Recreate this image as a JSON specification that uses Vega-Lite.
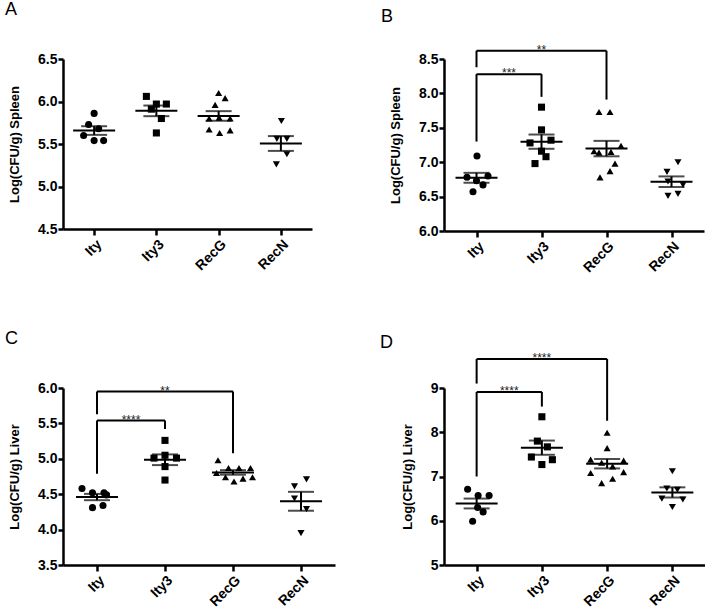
{
  "$schema": "https://vega.github.io/schema/vega-lite/v6.json",
  "padding": {"left": 5, "top": 1, "right": 0, "bottom": 0},
  "background": "white",
  "config": {
    "font": "Liberation Sans",
    "view": {"stroke": null},
    "axis": {"grid": false, "domainColor": "black", "domainWidth": 2.5, "tickColor": "black", "tickWidth": 2.5, "labelColor": "black", "labelFontWeight": "bold", "labelFontSize": 14, "titleFontWeight": "bold", "titleFontSize": 13, "titleColor": "black", "labelOverlap": false},
    "axisY": {"tickSize": 5, "labelPadding": 1, "titlePadding": 16, "labelOverlap": false},
    "axisX": {"tickSize": 6, "labelAngle": -45, "labelPadding": 2, "title": null},
    "title": {"fontSize": 18, "fontWeight": "normal", "anchor": "start", "frame": "group", "baseline": "alphabetic", "color": "black"}
  },
  "datasets": {
    "A": [
      {"group": "Ity", "value": 5.86, "jitter": 0},
      {"group": "Ity", "value": 5.73, "jitter": -1.1},
      {"group": "Ity", "value": 5.68, "jitter": 0.9},
      {"group": "Ity", "value": 5.60, "jitter": -2.1},
      {"group": "Ity", "value": 5.54, "jitter": 0},
      {"group": "Ity", "value": 5.54, "jitter": 1.9},
      {"group": "Ity3", "value": 6.06, "jitter": -2},
      {"group": "Ity3", "value": 5.97, "jitter": 0},
      {"group": "Ity3", "value": 5.97, "jitter": 2},
      {"group": "Ity3", "value": 5.91, "jitter": -1},
      {"group": "Ity3", "value": 5.80, "jitter": 1},
      {"group": "Ity3", "value": 5.63, "jitter": 0},
      {"group": "RecG", "value": 6.10, "jitter": 0},
      {"group": "RecG", "value": 6.04, "jitter": 1.3},
      {"group": "RecG", "value": 5.96, "jitter": -0.7},
      {"group": "RecG", "value": 5.80, "jitter": -1.9},
      {"group": "RecG", "value": 5.81, "jitter": 0.1},
      {"group": "RecG", "value": 5.80, "jitter": 2.3},
      {"group": "RecG", "value": 5.67, "jitter": -1.9},
      {"group": "RecG", "value": 5.63, "jitter": 0.2},
      {"group": "RecG", "value": 5.66, "jitter": 2.3},
      {"group": "RecN", "value": 5.77, "jitter": 0.1},
      {"group": "RecN", "value": 5.56, "jitter": -0.8},
      {"group": "RecN", "value": 5.56, "jitter": 1.2},
      {"group": "RecN", "value": 5.38, "jitter": 1.2},
      {"group": "RecN", "value": 5.26, "jitter": -0.9}
    ],
    "B": [
      {"group": "Ity", "value": 7.09, "jitter": 0.1},
      {"group": "Ity", "value": 6.78, "jitter": -1.9},
      {"group": "Ity", "value": 6.80, "jitter": 2.3},
      {"group": "Ity", "value": 6.73, "jitter": 0},
      {"group": "Ity", "value": 6.67, "jitter": 1.3},
      {"group": "Ity", "value": 6.57, "jitter": -0.7},
      {"group": "Ity3", "value": 7.80, "jitter": 0},
      {"group": "Ity3", "value": 7.47, "jitter": 0},
      {"group": "Ity3", "value": 7.28, "jitter": -2.3},
      {"group": "Ity3", "value": 7.32, "jitter": 1.9},
      {"group": "Ity3", "value": 7.16, "jitter": 0},
      {"group": "Ity3", "value": 7.08, "jitter": 0.9},
      {"group": "Ity3", "value": 6.98, "jitter": -1.3},
      {"group": "RecG", "value": 7.73, "jitter": -1.5},
      {"group": "RecG", "value": 7.73, "jitter": 0.7},
      {"group": "RecG", "value": 7.24, "jitter": 2.9},
      {"group": "RecG", "value": 7.16, "jitter": -2.5},
      {"group": "RecG", "value": 7.14, "jitter": -1.5},
      {"group": "RecG", "value": 7.15, "jitter": 0.9},
      {"group": "RecG", "value": 6.98, "jitter": 1.7},
      {"group": "RecG", "value": 6.87, "jitter": 0.7},
      {"group": "RecG", "value": 6.78, "jitter": -1.3},
      {"group": "RecN", "value": 7.00, "jitter": 1.3},
      {"group": "RecN", "value": 6.86, "jitter": -0.9},
      {"group": "RecN", "value": 6.72, "jitter": -0.7},
      {"group": "RecN", "value": 6.67, "jitter": 2.3},
      {"group": "RecN", "value": 6.51, "jitter": -0.7},
      {"group": "RecN", "value": 6.54, "jitter": 1.3}
    ],
    "C": [
      {"group": "Ity", "value": 4.58, "jitter": -3},
      {"group": "Ity", "value": 4.52, "jitter": -0.9},
      {"group": "Ity", "value": 4.52, "jitter": 1.4},
      {"group": "Ity", "value": 4.49, "jitter": 1.9},
      {"group": "Ity", "value": 4.31, "jitter": -0.9},
      {"group": "Ity", "value": 4.34, "jitter": 1.2},
      {"group": "Ity3", "value": 5.26, "jitter": 0},
      {"group": "Ity3", "value": 5.01, "jitter": -2.2},
      {"group": "Ity3", "value": 5.05, "jitter": 0},
      {"group": "Ity3", "value": 5.01, "jitter": 2.3},
      {"group": "Ity3", "value": 4.89, "jitter": 0},
      {"group": "Ity3", "value": 4.70, "jitter": 0},
      {"group": "RecG", "value": 4.98, "jitter": -3},
      {"group": "RecG", "value": 4.87, "jitter": -0.9},
      {"group": "RecG", "value": 4.87, "jitter": 1.2},
      {"group": "RecG", "value": 4.87, "jitter": 3.5},
      {"group": "RecG", "value": 4.80, "jitter": -3.3},
      {"group": "RecG", "value": 4.74, "jitter": -1.5},
      {"group": "RecG", "value": 4.68, "jitter": 0.2},
      {"group": "RecG", "value": 4.72, "jitter": 2},
      {"group": "RecG", "value": 4.74, "jitter": 3.9},
      {"group": "RecN", "value": 4.71, "jitter": 1.1},
      {"group": "RecN", "value": 4.61, "jitter": -1.3},
      {"group": "RecN", "value": 4.44, "jitter": -1.3},
      {"group": "RecN", "value": 4.29, "jitter": 1.1},
      {"group": "RecN", "value": 3.95, "jitter": 0}
    ],
    "D": [
      {"group": "Ity", "value": 6.71, "jitter": -1.8},
      {"group": "Ity", "value": 6.57, "jitter": 0.3},
      {"group": "Ity", "value": 6.57, "jitter": 2.5},
      {"group": "Ity", "value": 6.30, "jitter": 0.2},
      {"group": "Ity", "value": 6.20, "jitter": 1.3},
      {"group": "Ity", "value": 5.99, "jitter": -0.8},
      {"group": "Ity3", "value": 8.35, "jitter": 0},
      {"group": "Ity3", "value": 7.80, "jitter": -0.9},
      {"group": "Ity3", "value": 7.67, "jitter": 1.1},
      {"group": "Ity3", "value": 7.44, "jitter": -2.1},
      {"group": "Ity3", "value": 7.38, "jitter": 2.1},
      {"group": "Ity3", "value": 7.27, "jitter": 0},
      {"group": "RecG", "value": 7.99, "jitter": 0},
      {"group": "RecG", "value": 7.64, "jitter": 0},
      {"group": "RecG", "value": 7.38, "jitter": -3.3},
      {"group": "RecG", "value": 7.31, "jitter": -1.1},
      {"group": "RecG", "value": 7.23, "jitter": 1.1},
      {"group": "RecG", "value": 7.36, "jitter": 3.3},
      {"group": "RecG", "value": 7.08, "jitter": -3.3},
      {"group": "RecG", "value": 7.10, "jitter": 3.3},
      {"group": "RecG", "value": 6.95, "jitter": 1.1},
      {"group": "RecG", "value": 6.85, "jitter": -1.1},
      {"group": "RecN", "value": 7.12, "jitter": 0},
      {"group": "RecN", "value": 6.73, "jitter": -1.1},
      {"group": "RecN", "value": 6.70, "jitter": 1},
      {"group": "RecN", "value": 6.50, "jitter": -2.1},
      {"group": "RecN", "value": 6.48, "jitter": 2.1},
      {"group": "RecN", "value": 6.31, "jitter": 0}
    ],
    "bB": [
      {"from": "Ity", "to": "RecG", "mid": "Ity3", "top": 8.62, "lb": 8.38, "rb": 7.91, "label": "**"},
      {"from": "Ity", "to": "Ity3", "mid": "m1", "top": 8.28, "lb": 7.30, "rb": 7.95, "label": "***"}
    ],
    "bC": [
      {"from": "Ity", "to": "RecG", "mid": "Ity3", "top": 5.95, "lb": 5.63, "rb": 5.08, "label": "**"},
      {"from": "Ity", "to": "Ity3", "mid": "m1", "top": 5.54, "lb": 4.79, "rb": 5.42, "label": "****"}
    ],
    "bD": [
      {"from": "Ity", "to": "RecG", "mid": "Ity3", "top": 9.655, "lb": 9.10, "rb": 8.26, "label": "****"},
      {"from": "Ity", "to": "Ity3", "mid": "m1", "top": 8.91, "lb": 7.0, "rb": 8.58, "label": "****"}
    ]
  },
  "bounds": "flush",
  "columns": 2,
  "spacing": {"row": 157, "column": 109},
  "concat": [
    {
      "width": 249, "height": 170,
      "title": {"text": "A", "dx": -58, "offset": 33},
      "layer": [
        {"data": {"name": "A"},
         "mark": {"type": "point", "filled": true, "size": 50, "opacity": 1, "color": "black"},
         "encoding": {
           "x": {"field": "group", "type": "nominal", "title": null, "scale": {"type": "point", "domain": ["Ity", "m1", "Ity3", "m2", "RecG", "m3", "RecN"], "padding": 1}, "axis": {"values": ["Ity", "Ity3", "RecG", "RecN"]}},
           "xOffset": {"field": "jitter", "type": "quantitative", "scale": {"domain": [-4, 4], "range": [-20, 20]}},
           "y": {"field": "value", "type": "quantitative", "title": "Log(CFU/g) Spleen", "scale": {"domain": [4.5, 6.5], "nice": false, "zero": false}, "axis": {"values": [4.5, 5, 5.5, 6, 6.5], "tickCount": 10, "format": ".1f", "labelOverlap": false}},
           "shape": {"field": "group", "type": "nominal", "scale": {"domain": ["Ity", "Ity3", "RecG", "RecN"], "range": ["circle", "square", "triangle-up", "triangle-down"]}, "legend": null}
         }},
        {"data": {"name": "A"},
         "mark": {"type": "errorbar", "extent": "stderr", "ticks": {"size": 26, "thickness": 2, "color": "black"}, "thickness": 2, "color": "black"},
         "encoding": {
           "x": {"field": "group", "type": "nominal", "title": null},
           "y": {"field": "value", "type": "quantitative", "title": "Log(CFU/g) Spleen"}
         }},
        {"data": {"name": "A"},
         "mark": {"type": "tick", "size": 42, "thickness": 2, "color": "black", "opacity": 1},
         "encoding": {
           "x": {"field": "group", "type": "nominal", "title": null},
           "y": {"field": "value", "aggregate": "mean", "type": "quantitative", "title": "Log(CFU/g) Spleen"}
         }}
      ]
    },
    {
      "width": 260, "height": 172,
      "title": {"text": "B", "dx": -63, "offset": 18},
      "layer": [
        {"data": {"name": "B"},
         "mark": {"type": "point", "filled": true, "size": 50, "opacity": 1, "color": "black"},
         "encoding": {
           "x": {"field": "group", "type": "nominal", "title": null, "scale": {"type": "point", "domain": ["Ity", "m1", "Ity3", "m2", "RecG", "m3", "RecN"], "padding": 1}, "axis": {"values": ["Ity", "Ity3", "RecG", "RecN"]}},
           "xOffset": {"field": "jitter", "type": "quantitative", "scale": {"domain": [-4, 4], "range": [-20, 20]}},
           "y": {"field": "value", "type": "quantitative", "title": "Log(CFU/g) Spleen", "scale": {"domain": [6, 8.5], "nice": false, "zero": false}, "axis": {"values": [6, 6.5, 7, 7.5, 8, 8.5], "tickCount": 10, "format": ".1f", "labelOverlap": false}},
           "shape": {"field": "group", "type": "nominal", "scale": {"domain": ["Ity", "Ity3", "RecG", "RecN"], "range": ["circle", "square", "triangle-up", "triangle-down"]}, "legend": null}
         }},
        {"data": {"name": "B"},
         "mark": {"type": "errorbar", "extent": "stderr", "ticks": {"size": 26, "thickness": 2, "color": "black"}, "thickness": 2, "color": "black"},
         "encoding": {
           "x": {"field": "group", "type": "nominal", "title": null},
           "y": {"field": "value", "type": "quantitative", "title": "Log(CFU/g) Spleen"}
         }},
        {"data": {"name": "B"},
         "mark": {"type": "tick", "size": 42, "thickness": 2, "color": "black", "opacity": 1},
         "encoding": {
           "x": {"field": "group", "type": "nominal", "title": null},
           "y": {"field": "value", "aggregate": "mean", "type": "quantitative", "title": "Log(CFU/g) Spleen"}
         }},
        {"data": {"name": "bB"},
         "mark": {"type": "rule", "strokeWidth": 2, "color": "black"},
         "encoding": {
           "x": {"field": "from", "type": "nominal", "title": null}, "x2": {"field": "to"},
           "y": {"field": "top", "type": "quantitative", "title": "Log(CFU/g) Spleen"}
         }},
        {"data": {"name": "bB"},
         "mark": {"type": "rule", "strokeWidth": 2, "color": "black"},
         "encoding": {
           "x": {"field": "from", "type": "nominal", "title": null},
           "y": {"field": "top", "type": "quantitative", "title": "Log(CFU/g) Spleen"}, "y2": {"field": "lb"}
         }},
        {"data": {"name": "bB"},
         "mark": {"type": "rule", "strokeWidth": 2, "color": "black"},
         "encoding": {
           "x": {"field": "to", "type": "nominal", "title": null},
           "y": {"field": "top", "type": "quantitative", "title": "Log(CFU/g) Spleen"}, "y2": {"field": "rb"}
         }},
        {"data": {"name": "bB"},
         "mark": {"type": "text", "fontSize": 12, "color": "#222", "baseline": "alphabetic", "dy": 3},
         "encoding": {
           "x": {"field": "mid", "type": "nominal", "title": null},
           "y": {"field": "top", "type": "quantitative", "title": "Log(CFU/g) Spleen"},
           "text": {"field": "label"}
         }}
      ]
    },
    {
      "width": 272, "height": 177,
      "title": {"text": "C", "dx": -58, "offset": 33},
      "layer": [
        {"data": {"name": "C"},
         "mark": {"type": "point", "filled": true, "size": 50, "opacity": 1, "color": "black"},
         "encoding": {
           "x": {"field": "group", "type": "nominal", "title": null, "scale": {"type": "point", "domain": ["Ity", "m1", "Ity3", "m2", "RecG", "m3", "RecN"], "padding": 1}, "axis": {"values": ["Ity", "Ity3", "RecG", "RecN"]}},
           "xOffset": {"field": "jitter", "type": "quantitative", "scale": {"domain": [-4, 4], "range": [-20, 20]}},
           "y": {"field": "value", "type": "quantitative", "title": "Log(CFU/g) Liver", "scale": {"domain": [3.5, 6], "nice": false, "zero": false}, "axis": {"values": [3.5, 4, 4.5, 5, 5.5, 6], "tickCount": 10, "format": ".1f", "labelOverlap": false}},
           "shape": {"field": "group", "type": "nominal", "scale": {"domain": ["Ity", "Ity3", "RecG", "RecN"], "range": ["circle", "square", "triangle-up", "triangle-down"]}, "legend": null}
         }},
        {"data": {"name": "C"},
         "mark": {"type": "errorbar", "extent": "stderr", "ticks": {"size": 26, "thickness": 2, "color": "black"}, "thickness": 2, "color": "black"},
         "encoding": {
           "x": {"field": "group", "type": "nominal", "title": null},
           "y": {"field": "value", "type": "quantitative", "title": "Log(CFU/g) Liver"}
         }},
        {"data": {"name": "C"},
         "mark": {"type": "tick", "size": 42, "thickness": 2, "color": "black", "opacity": 1},
         "encoding": {
           "x": {"field": "group", "type": "nominal", "title": null},
           "y": {"field": "value", "aggregate": "mean", "type": "quantitative", "title": "Log(CFU/g) Liver"}
         }},
        {"data": {"name": "bC"},
         "mark": {"type": "rule", "strokeWidth": 2, "color": "black"},
         "encoding": {
           "x": {"field": "from", "type": "nominal", "title": null}, "x2": {"field": "to"},
           "y": {"field": "top", "type": "quantitative", "title": "Log(CFU/g) Liver"}
         }},
        {"data": {"name": "bC"},
         "mark": {"type": "rule", "strokeWidth": 2, "color": "black"},
         "encoding": {
           "x": {"field": "from", "type": "nominal", "title": null},
           "y": {"field": "top", "type": "quantitative", "title": "Log(CFU/g) Liver"}, "y2": {"field": "lb"}
         }},
        {"data": {"name": "bC"},
         "mark": {"type": "rule", "strokeWidth": 2, "color": "black"},
         "encoding": {
           "x": {"field": "to", "type": "nominal", "title": null},
           "y": {"field": "top", "type": "quantitative", "title": "Log(CFU/g) Liver"}, "y2": {"field": "rb"}
         }},
        {"data": {"name": "bC"},
         "mark": {"type": "text", "fontSize": 12, "color": "#222", "baseline": "alphabetic", "dy": 3},
         "encoding": {
           "x": {"field": "mid", "type": "nominal", "title": null},
           "y": {"field": "top", "type": "quantitative", "title": "Log(CFU/g) Liver"},
           "text": {"field": "label"}
         }}
      ]
    },
    {
      "width": 261, "height": 177,
      "title": {"text": "D", "dx": -64, "offset": 0},
      "layer": [
        {"data": {"name": "D"},
         "mark": {"type": "point", "filled": true, "size": 50, "opacity": 1, "color": "black"},
         "encoding": {
           "x": {"field": "group", "type": "nominal", "title": null, "scale": {"type": "point", "domain": ["Ity", "m1", "Ity3", "m2", "RecG", "m3", "RecN"], "padding": 1}, "axis": {"values": ["Ity", "Ity3", "RecG", "RecN"]}},
           "xOffset": {"field": "jitter", "type": "quantitative", "scale": {"domain": [-4, 4], "range": [-20, 20]}},
           "y": {"field": "value", "type": "quantitative", "title": "Log(CFU/g) Liver", "scale": {"domain": [5, 9], "nice": false, "zero": false}, "axis": {"values": [5, 6, 7, 8, 9], "tickCount": 10, "format": "d", "labelOverlap": false}},
           "shape": {"field": "group", "type": "nominal", "scale": {"domain": ["Ity", "Ity3", "RecG", "RecN"], "range": ["circle", "square", "triangle-up", "triangle-down"]}, "legend": null}
         }},
        {"data": {"name": "D"},
         "mark": {"type": "errorbar", "extent": "stderr", "ticks": {"size": 26, "thickness": 2, "color": "black"}, "thickness": 2, "color": "black"},
         "encoding": {
           "x": {"field": "group", "type": "nominal", "title": null},
           "y": {"field": "value", "type": "quantitative", "title": "Log(CFU/g) Liver"}
         }},
        {"data": {"name": "D"},
         "mark": {"type": "tick", "size": 42, "thickness": 2, "color": "black", "opacity": 1},
         "encoding": {
           "x": {"field": "group", "type": "nominal", "title": null},
           "y": {"field": "value", "aggregate": "mean", "type": "quantitative", "title": "Log(CFU/g) Liver"}
         }},
        {"data": {"name": "bD"},
         "mark": {"type": "rule", "strokeWidth": 2, "color": "black"},
         "encoding": {
           "x": {"field": "from", "type": "nominal", "title": null}, "x2": {"field": "to"},
           "y": {"field": "top", "type": "quantitative", "title": "Log(CFU/g) Liver"}
         }},
        {"data": {"name": "bD"},
         "mark": {"type": "rule", "strokeWidth": 2, "color": "black"},
         "encoding": {
           "x": {"field": "from", "type": "nominal", "title": null},
           "y": {"field": "top", "type": "quantitative", "title": "Log(CFU/g) Liver"}, "y2": {"field": "lb"}
         }},
        {"data": {"name": "bD"},
         "mark": {"type": "rule", "strokeWidth": 2, "color": "black"},
         "encoding": {
           "x": {"field": "to", "type": "nominal", "title": null},
           "y": {"field": "top", "type": "quantitative", "title": "Log(CFU/g) Liver"}, "y2": {"field": "rb"}
         }},
        {"data": {"name": "bD"},
         "mark": {"type": "text", "fontSize": 12, "color": "#222", "baseline": "alphabetic", "dy": 3},
         "encoding": {
           "x": {"field": "mid", "type": "nominal", "title": null},
           "y": {"field": "top", "type": "quantitative", "title": "Log(CFU/g) Liver"},
           "text": {"field": "label"}
         }}
      ]
    }
  ]
}
